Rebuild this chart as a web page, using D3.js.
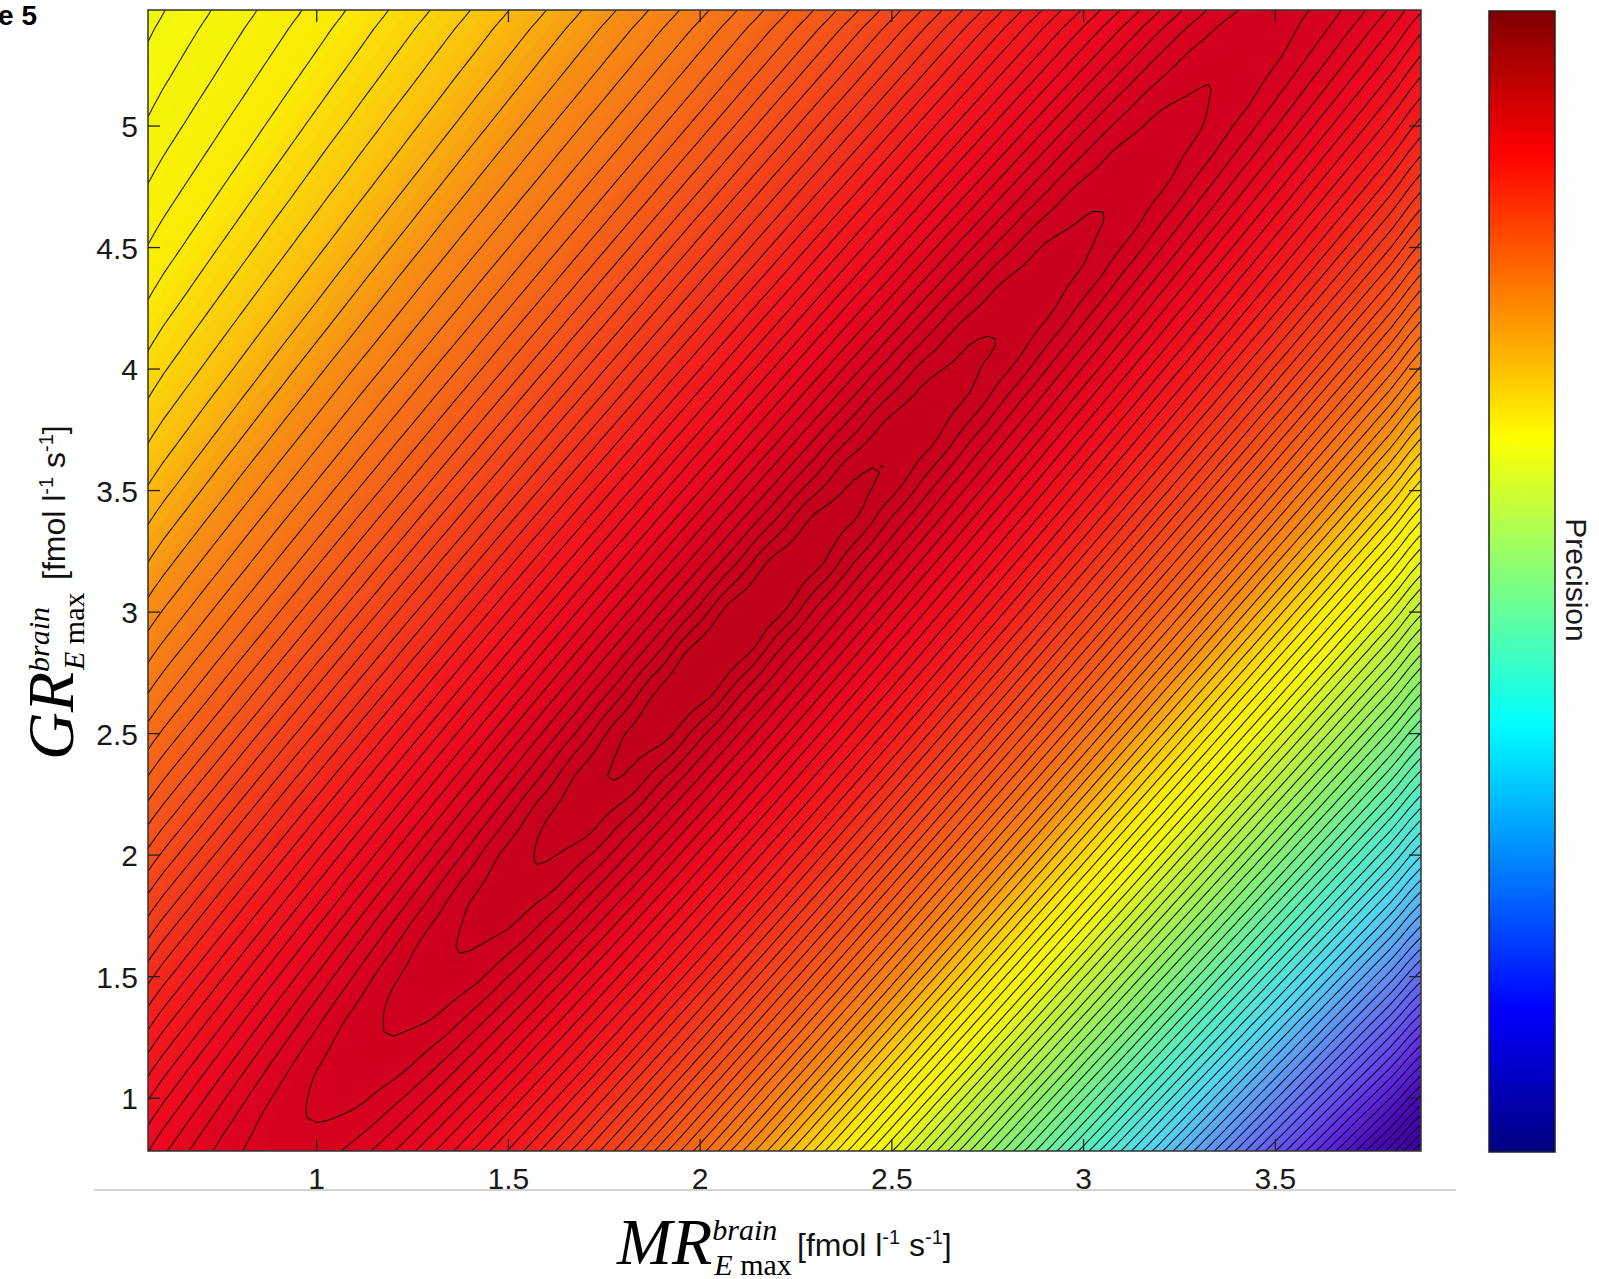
<!DOCTYPE html>
<html>
<head>
<meta charset="utf-8">
<script src="https://cdn.jsdelivr.net/npm/d3@7"></script>
<style>
  body { margin: 0; background: #fff; }
  svg { display: block; }
  .tick-label { font-family: "Liberation Sans", Arial, sans-serif; font-size: 30px; fill: #1a1a1a; }
</style>
</head>
<body>
<svg id="chart" width="1599" height="1279"></svg>
<script>
const xTicks = [1, 1.5, 2, 2.5, 3, 3.5];
const yTicks = [1, 1.5, 2, 2.5, 3, 3.5, 4, 4.5, 5];
const barTicks = [1000, 2000, 3000, 4000, 5000, 6000, 7000, 8000, 9000];

// sample points of the precision surface
const gridMR = [0.5, 0.6, 0.7, 0.8, 0.9, 1.0, 1.1, 1.2, 1.3, 1.4, 1.5, 1.6, 1.7, 1.8, 1.9, 2.0, 2.1, 2.2,
  2.3, 2.4, 2.5, 2.6, 2.7, 2.8, 2.9, 3.0, 3.1, 3.2, 3.3, 3.4, 3.5, 3.6, 3.7, 3.8, 3.9];
const gridGR = [0.7, 0.8, 0.9, 1.0, 1.1, 1.2, 1.3, 1.4, 1.5, 1.6, 1.7, 1.8, 1.9, 2.0, 2.1, 2.2, 2.3, 2.4,
  2.5, 2.6, 2.7, 2.8, 2.9, 3.0, 3.1, 3.2, 3.3, 3.4, 3.5, 3.6, 3.7, 3.8, 3.9, 4.0, 4.1, 4.2, 4.3, 4.4,
  4.5, 4.6, 4.7, 4.8, 4.9, 5.0, 5.1, 5.2, 5.3, 5.4, 5.5];

// precision x 10^4, one row per GR value (bottom to top), one column per MR value
const precision = [
  [8863, 9046, 9203, 9314, 9345, 9299, 9178, 9011, 8816, 8605, 8381, 8139, 7879, 7600, 7308, 7005, 6691, 6367, 6032, 5690, 5345, 4997, 4647, 4294, 3938, 3576, 3210, 2840, 2465, 2087, 1705, 1319, 930, 539, 146],
  [8772, 8966, 9143, 9287, 9362, 9365, 9274, 9126, 8940, 8734, 8516, 8283, 8032, 7762, 7476, 7179, 6871, 6553, 6225, 5886, 5544, 5199, 4851, 4501, 4149, 3792, 3431, 3066, 2696, 2324, 1947, 1568, 1185, 799, 412],
  [8676, 8877, 9068, 9235, 9361, 9400, 9359, 9234, 9062, 8862, 8648, 8422, 8180, 7919, 7641, 7350, 7048, 6736, 6413, 6080, 5741, 5398, 5053, 4705, 4356, 4004, 3648, 3287, 2923, 2555, 2184, 1810, 1432, 1052, 671],
  [8576, 8782, 8982, 9168, 9324, 9415, 9424, 9332, 9179, 8989, 8778, 8557, 8323, 8072, 7803, 7517, 7221, 6914, 6598, 6272, 5935, 5595, 5252, 4907, 4561, 4212, 3860, 3504, 3144, 2781, 2415, 2046, 1674, 1299, 923],
  [8474, 8683, 8889, 9086, 9265, 9405, 9454, 9420, 9290, 9112, 8908, 8689, 8462, 8219, 7959, 7681, 7390, 7089, 6779, 6458, 6128, 5790, 5450, 5107, 4763, 4417, 4069, 3717, 3361, 3003, 2641, 2277, 1910, 1541, 1169],
  [8369, 8580, 8789, 8995, 9189, 9358, 9467, 9483, 9390, 9231, 9035, 8821, 8597, 8362, 8110, 7842, 7557, 7261, 6956, 6641, 6317, 5983, 5645, 5304, 4962, 4618, 4274, 3926, 3575, 3220, 2863, 2503, 2141, 1776, 1409],
  [8263, 8475, 8687, 8897, 9101, 9290, 9445, 9508, 9481, 9344, 9160, 8951, 8730, 8500, 8256, 7997, 7720, 7430, 7130, 6821, 6502, 6174, 5838, 5500, 5160, 4818, 4475, 4131, 3784, 3433, 3080, 2724, 2366, 2006, 1644],
  [8157, 8369, 8581, 8794, 9004, 9206, 9387, 9516, 9541, 9449, 9282, 9080, 8862, 8635, 8398, 8147, 7879, 7595, 7300, 6997, 6684, 6361, 6030, 5693, 5355, 5016, 4675, 4333, 3990, 3643, 3294, 2942, 2588, 2232, 1874],
  [8050, 8261, 8474, 8688, 8901, 9111, 9310, 9481, 9562, 9542, 9398, 9207, 8993, 8768, 8536, 8292, 8033, 7757, 7468, 7169, 6861, 6545, 6219, 5885, 5549, 5211, 4872, 4532, 4192, 3849, 3503, 3155, 2805, 2453, 2099],
  [7943, 8154, 8366, 8580, 8795, 9009, 9219, 9412, 9563, 9598, 9506, 9331, 9123, 8901, 8671, 8434, 8182, 7915, 7632, 7338, 7036, 6724, 6404, 6075, 5740, 5405, 5067, 4729, 4391, 4052, 3709, 3365, 3018, 2670, 2320],
  [7835, 8046, 8257, 8471, 8686, 8903, 9118, 9326, 9512, 9616, 9602, 9450, 9252, 9033, 8804, 8571, 8327, 8068, 7793, 7504, 7207, 6901, 6586, 6262, 5930, 5596, 5261, 4925, 4588, 4251, 3912, 3571, 3228, 2883, 2536],
  [7728, 7938, 8149, 8362, 8577, 8793, 9011, 9227, 9431, 9604, 9653, 9564, 9378, 9164, 8938, 8705, 8467, 8216, 7950, 7668, 7375, 7073, 6764, 6446, 6119, 5786, 5453, 5118, 4783, 4448, 4112, 3774, 3434, 3092, 2749],
  [7621, 7830, 8040, 8252, 8466, 8682, 8901, 9120, 9336, 9536, 9669, 9663, 9500, 9295, 9071, 8839, 8603, 8359, 8101, 7828, 7540, 7243, 6938, 6626, 6304, 5975, 5643, 5310, 4976, 4642, 4309, 3974, 3637, 3298, 2958],
  [7515, 7722, 7931, 8142, 8355, 8571, 8789, 9009, 9230, 9444, 9639, 9708, 9621, 9423, 9203, 8972, 8737, 8498, 8247, 7982, 7702, 7410, 7110, 6802, 6486, 6162, 5831, 5500, 5168, 4835, 4503, 4171, 3837, 3501, 3164],
  [7413, 7616, 7823, 8032, 8244, 8459, 8676, 8896, 9118, 9340, 9553, 9718, 9724, 9548, 9334, 9105, 8871, 8634, 8390, 8132, 7860, 7574, 7278, 6975, 6664, 6345, 6018, 5688, 5358, 5027, 4695, 4365, 4034, 3701, 3366],
  [7316, 7510, 7716, 7923, 8134, 8347, 8562, 8782, 9004, 9228, 9450, 9664, 9762, 9676, 9464, 9238, 9004, 8767, 8528, 8277, 8013, 7734, 7444, 7145, 6839, 6525, 6204, 5875, 5546, 5216, 4886, 4557, 4228, 3898, 3566],
  [7222, 7409, 7609, 7815, 8024, 8235, 8449, 8667, 8888, 9112, 9338, 9561, 9762, 9784, 9593, 9370, 9137, 8901, 8662, 8418, 8162, 7891, 7606, 7312, 7011, 6702, 6386, 6061, 5733, 5405, 5076, 4747, 4419, 4092, 3763],
  [7133, 7312, 7504, 7707, 7914, 8124, 8336, 8552, 8772, 8995, 9222, 9449, 9678, 9816, 9729, 9501, 9270, 9034, 8795, 8555, 8305, 8043, 7766, 7477, 7180, 6876, 6564, 6245, 5919, 5591, 5264, 4936, 4610, 4283, 3957],
  [7047, 7219, 7403, 7601, 7806, 8013, 8224, 8438, 8655, 8877, 9102, 9331, 9561, 9793, 9843, 9634, 9402, 9166, 8928, 8688, 8445, 8190, 7921, 7638, 7346, 7046, 6739, 6425, 6103, 5777, 5450, 5124, 4798, 4473, 4149],
  [6964, 7131, 7307, 7496, 7698, 7904, 8112, 8324, 8539, 8759, 8982, 9210, 9441, 9679, 9870, 9777, 9532, 9298, 9060, 8820, 8580, 8332, 8071, 7797, 7509, 7214, 6911, 6602, 6285, 5961, 5636, 5310, 4985, 4661, 4338],
  [6884, 7045, 7215, 7397, 7591, 7795, 8002, 8211, 8424, 8641, 8863, 9088, 9318, 9551, 9802, 9900, 9668, 9429, 9191, 8952, 8713, 8470, 8217, 7950, 7669, 7378, 7080, 6775, 6463, 6144, 5820, 5495, 5171, 4848, 4525],
  [6808, 6964, 7128, 7302, 7488, 7688, 7892, 8099, 8310, 8525, 8743, 8967, 9195, 9427, 9666, 9911, 9813, 9558, 9322, 9084, 8844, 8605, 8358, 8099, 7826, 7540, 7246, 6946, 6639, 6324, 6002, 5679, 5356, 5033, 4711],
  [6734, 6885, 7043, 7211, 7389, 7581, 7784, 7989, 8197, 8409, 8625, 8845, 9071, 9301, 9534, 9786, 9926, 9693, 9452, 9215, 8976, 8736, 8495, 8243, 7978, 7699, 7410, 7114, 6811, 6501, 6184, 5862, 5539, 5217, 4896],
  [6663, 6809, 6962, 7124, 7295, 7479, 7676, 7879, 8085, 8294, 8508, 8725, 8948, 9175, 9406, 9642, 9891, 9833, 9579, 9344, 9106, 8867, 8628, 8383, 8125, 7855, 7570, 7279, 6980, 6674, 6362, 6043, 5722, 5400, 5080],
  [6594, 6736, 6885, 7040, 7205, 7381, 7570, 7771, 7974, 8181, 8392, 8606, 8826, 9050, 9278, 9509, 9754, 9893, 9713, 9472, 9236, 8997, 8758, 8518, 8268, 8005, 7728, 7441, 7146, 6845, 6537, 6223, 5903, 5582, 5262],
  [6528, 6666, 6810, 6960, 7119, 7288, 7469, 7664, 7865, 8069, 8277, 8489, 8705, 8926, 9151, 9380, 9613, 9850, 9835, 9597, 9363, 9127, 8888, 8649, 8406, 8151, 7882, 7600, 7310, 7013, 6709, 6399, 6083, 5763, 5444],
  [6464, 6599, 6738, 6884, 7037, 7199, 7372, 7558, 7757, 7958, 8164, 8373, 8586, 8803, 9026, 9252, 9482, 9718, 9856, 9725, 9488, 9255, 9018, 8779, 8540, 8292, 8031, 7757, 7470, 7178, 6879, 6573, 6261, 5943, 5624],
  [6403, 6534, 6669, 6810, 6958, 7114, 7280, 7458, 7650, 7849, 8052, 8258, 8468, 8683, 8902, 9126, 9353, 9580, 9806, 9818, 9609, 9380, 9145, 8908, 8670, 8428, 8175, 7908, 7629, 7340, 7045, 6744, 6436, 6122, 5804],
  [6343, 6471, 6602, 6739, 6882, 7032, 7192, 7362, 7545, 7741, 7941, 8145, 8352, 8564, 8780, 9000, 9225, 9451, 9678, 9818, 9727, 9500, 9271, 9036, 8799, 8560, 8314, 8056, 7784, 7499, 7208, 6911, 6608, 6298, 5982],
  [6286, 6410, 6538, 6671, 6809, 6954, 7107, 7271, 7446, 7635, 7832, 8033, 8238, 8446, 8659, 8877, 9099, 9323, 9546, 9760, 9789, 9617, 9393, 9162, 8926, 8689, 8449, 8198, 7934, 7656, 7369, 7076, 6777, 6471, 6159],
  [6230, 6352, 6476, 6605, 6739, 6879, 7027, 7184, 7351, 7532, 7725, 7923, 8125, 8331, 8541, 8755, 8974, 9196, 9419, 9637, 9780, 9720, 9508, 9285, 9052, 8816, 8580, 8336, 8079, 7810, 7527, 7238, 6943, 6642, 6334],
  [6177, 6296, 6417, 6542, 6672, 6807, 6950, 7100, 7261, 7433, 7619, 7815, 8014, 8217, 8424, 8635, 8851, 9071, 9292, 9510, 9714, 9755, 9618, 9403, 9176, 8942, 8707, 8469, 8220, 7958, 7683, 7398, 7106, 6809, 6506],
  [6125, 6241, 6360, 6481, 6607, 6738, 6876, 7021, 7175, 7340, 7517, 7708, 7904, 8104, 8308, 8517, 8730, 8946, 9166, 9385, 9596, 9740, 9703, 9512, 9295, 9066, 8833, 8597, 8356, 8102, 7835, 7555, 7267, 6974, 6675],
  [6075, 6189, 6304, 6422, 6545, 6672, 6805, 6944, 7093, 7250, 7420, 7603, 7797, 7994, 8195, 8400, 8610, 8824, 9041, 9260, 9473, 9667, 9718, 9613, 9409, 9187, 8957, 8723, 8487, 8240, 7981, 7709, 7425, 7136, 6841],
  [6026, 6138, 6251, 6366, 6485, 6608, 6736, 6871, 7014, 7165, 7328, 7502, 7691, 7885, 8084, 8286, 8492, 8703, 8918, 9135, 9350, 9553, 9699, 9679, 9512, 9303, 9079, 8848, 8614, 8374, 8123, 7858, 7581, 7295, 7004],
  [5980, 6089, 6199, 6312, 6427, 6546, 6671, 6801, 6939, 7084, 7240, 7406, 7587, 7778, 7974, 8173, 8377, 8584, 8796, 9011, 9226, 9435, 9621, 9681, 9602, 9411, 9196, 8970, 8738, 8504, 8260, 8003, 7733, 7452, 7164],
  [5935, 6041, 6149, 6259, 6372, 6487, 6608, 6734, 6867, 7007, 7156, 7315, 7487, 7673, 7866, 8062, 8263, 8467, 8676, 8888, 9102, 9314, 9511, 9656, 9650, 9507, 9308, 9089, 8861, 8629, 8392, 8143, 7881, 7606, 7322],
  [5891, 5996, 6101, 6208, 6318, 6431, 6548, 6670, 6798, 6933, 7076, 7229, 7393, 7570, 7760, 7953, 8150, 8352, 8558, 8767, 8979, 9191, 9396, 9575, 9644, 9586, 9409, 9203, 8980, 8751, 8519, 8278, 8024, 7757, 7478],
  [5849, 5951, 6055, 6159, 6266, 6376, 6489, 6608, 6731, 6862, 6999, 7146, 7303, 7472, 7656, 7846, 8040, 8239, 8441, 8648, 8858, 9069, 9277, 9468, 9612, 9616, 9498, 9309, 9096, 8872, 8642, 8408, 8162, 7903, 7630],
  [5809, 5909, 6010, 6112, 6217, 6323, 6434, 6548, 6668, 6794, 6926, 7067, 7217, 7379, 7554, 7741, 7932, 8127, 8327, 8531, 8738, 8947, 9156, 9356, 9529, 9607, 9564, 9404, 9206, 8989, 8763, 8533, 8295, 8044, 7779],
  [5770, 5868, 5967, 6067, 6168, 6273, 6380, 6491, 6607, 6728, 6856, 6992, 7136, 7290, 7457, 7637, 7826, 8018, 8215, 8415, 8619, 8827, 9035, 9239, 9425, 9567, 9581, 9485, 9308, 9102, 8881, 8655, 8423, 8180, 7923],
  [5733, 5829, 5925, 6023, 6122, 6224, 6328, 6436, 6548, 6666, 6789, 6919, 7058, 7206, 7365, 7537, 7721, 7911, 8104, 8301, 8503, 8708, 8914, 9120, 9315, 9483, 9569, 9539, 9396, 9207, 8996, 8773, 8546, 8310, 8062],
  [5697, 5791, 5885, 5980, 6077, 6177, 6279, 6383, 6492, 6606, 6725, 6851, 6984, 7125, 7277, 7441, 7619, 7805, 7995, 8190, 8388, 8590, 8795, 9000, 9200, 9383, 9522, 9544, 9468, 9303, 9105, 8889, 8665, 8436, 8196],
  [5663, 5754, 5846, 5940, 6034, 6131, 6230, 6333, 6438, 6548, 6663, 6784, 6913, 7049, 7194, 7350, 7519, 7701, 7889, 8080, 8275, 8475, 8677, 8881, 9083, 9275, 9438, 9529, 9509, 9384, 9206, 9000, 8782, 8557, 8325],
  [5629, 5719, 5809, 5900, 5993, 6087, 6184, 6284, 6386, 6493, 6604, 6721, 6844, 6975, 7115, 7264, 7425, 7600, 7784, 7972, 8165, 8361, 8560, 8762, 8964, 9161, 9340, 9477, 9507, 9448, 9295, 9105, 8895, 8674, 8448],
  [5598, 5685, 5773, 5862, 5953, 6045, 6139, 6236, 6336, 6440, 6547, 6660, 6779, 6905, 7039, 7182, 7336, 7502, 7681, 7866, 8056, 8249, 8446, 8645, 8846, 9045, 9233, 9393, 9488, 9477, 9369, 9201, 9003, 8789, 8567],
  [5567, 5653, 5739, 5826, 5914, 6004, 6096, 6191, 6288, 6388, 6493, 6602, 6717, 6838, 6967, 7104, 7251, 7409, 7581, 7763, 7949, 8139, 8333, 8530, 8729, 8928, 9121, 9297, 9431, 9470, 9424, 9284, 9103, 8898, 8682],
  [5538, 5621, 5706, 5791, 5877, 5965, 6055, 6147, 6242, 6339, 6441, 6546, 6657, 6774, 6898, 7029, 7170, 7321, 7484, 7661, 7844, 8031, 8222, 8416, 8614, 8812, 9007, 9192, 9348, 9447, 9443, 9351, 9194, 9003, 8794],
  [5509, 5591, 5674, 5757, 5842, 5927, 6015, 6105, 6197, 6292, 6390, 6493, 6600, 6712, 6832, 6958, 7092, 7237, 7392, 7561, 7741, 7925, 8113, 8305, 8499, 8696, 8892, 9081, 9253, 9386, 9433, 9397, 9270, 9099, 8900]
];

// contour levels drawn as black lines
const contourLevels = d3.range(9800, 0, -100);

// plot colours (picked from the figure) against precision x 10^4
const colorStops = [9943, 9443, 8943, 8443, 8043, 7343, 6743, 6343, 5993, 5643, 5243, 4543, 3743, 3143,
  2743, 2243, 1843, 1443, 1043, 443];
const colorList = ['#bc0018', '#d2001e', '#ea0820', '#f31a1e', '#f2371c', '#f55f19', '#f78c14', '#fac30c',
  '#fbeb05', '#f5f80a', '#c8f232', '#87f06e', '#55eec3', '#50d7f0', '#5aaaf5', '#6278f3', '#6450f0',
  '#5c28e1', '#480cb9', '#3a02a0'];

const svg = d3.select('#chart');
const x = d3.scaleLinear().domain([0.56, 3.88]).range([148, 1421]);
const y = d3.scaleLinear().domain([0.7825, 5.4775]).range([1151, 10]);
const fieldColor = d3.scaleLinear().domain(colorStops.slice().reverse())
  .range(colorList.slice().reverse()).clamp(true);

// smooth the grid (cubic) before contouring, like interpolated shading
const F = 4;
const nx = (gridMR.length - 1) * F + 1, ny = (gridGR.length - 1) * F + 1;
function cub(p0, p1, p2, p3, t) {
  return p1 + 0.5 * t * (p2 - p0 + t * (2 * p0 - 5 * p1 + 4 * p2 - p3 + t * (3 * (p1 - p2) + p3 - p0)));
}
const ci = (v, n) => Math.max(0, Math.min(n - 1, v));
function sample(gi, gj) {
  const i = Math.min(Math.floor(gi), gridMR.length - 2), j = Math.min(Math.floor(gj), gridGR.length - 2);
  const tx = gi - i, ty = gj - j;
  const rows = [-1, 0, 1, 2].map(m => {
    const r = precision[ci(j + m, gridGR.length)];
    return cub(r[ci(i - 1, gridMR.length)], r[i], r[i + 1], r[ci(i + 2, gridMR.length)], tx);
  });
  return cub(rows[0], rows[1], rows[2], rows[3], ty);
}
const fine = new Float64Array(nx * ny);
for (let j = 0; j < ny; j++) for (let i = 0; i < nx; i++) fine[j * nx + i] = sample(i / F, j / F);

const stepMR = gridMR[1] - gridMR[0], stepGR = gridGR[1] - gridGR[0];
const path = d3.geoPath(d3.geoTransform({
  point(cx, cy) {
    this.stream.point(x(gridMR[0] + (cx - 0.5) / F * stepMR), y(gridGR[0] + (cy - 0.5) / F * stepGR));
  }
}));

svg.append('clipPath').attr('id', 'plot-clip')
  .append('rect').attr('x', 148).attr('y', 10).attr('width', 1273).attr('height', 1141);
const field = svg.append('g').attr('clip-path', 'url(#plot-clip)');
const vMin = d3.min(fine), vMax = d3.max(fine);
field.append('rect').attr('x', 148).attr('y', 10).attr('width', 1273).attr('height', 1141)
  .attr('fill', fieldColor(vMin));
field.selectAll('path.band')
  .data(d3.contours().size([nx, ny]).thresholds(d3.range(Math.floor(vMin), vMax, 40))(fine))
  .join('path').attr('class', 'band')
  .attr('d', path)
  .attr('fill', d => fieldColor(d.value + 20));

field.selectAll('path.level')
  .data(d3.contours().size([nx, ny]).thresholds(contourLevels)(fine))
  .join('path').attr('class', 'level')
  .attr('d', path)
  .attr('fill', 'none').attr('stroke', '#120404').attr('stroke-width', 1.1).attr('stroke-opacity', 0.9);

// frame, ticks on all four sides
svg.append('rect').attr('x', 148).attr('y', 10).attr('width', 1273).attr('height', 1141)
  .attr('fill', 'none').attr('stroke', '#333').attr('stroke-width', 1.5);
const tk = svg.append('g').attr('stroke', '#222').attr('stroke-width', 1.3);
xTicks.forEach(t => {
  tk.append('line').attr('x1', x(t)).attr('x2', x(t)).attr('y1', 1151).attr('y2', 1139);
  tk.append('line').attr('x1', x(t)).attr('x2', x(t)).attr('y1', 10).attr('y2', 22);
});
yTicks.forEach(t => {
  tk.append('line').attr('x1', 148).attr('x2', 160).attr('y1', y(t)).attr('y2', y(t));
  tk.append('line').attr('x1', 1421).attr('x2', 1409).attr('y1', y(t)).attr('y2', y(t));
});
svg.selectAll('text.xt').data(xTicks).join('text').attr('class', 'tick-label xt')
  .attr('x', d => x(d)).attr('y', 1189).attr('text-anchor', 'middle').text(d => d);
svg.selectAll('text.yt').data(yTicks).join('text').attr('class', 'tick-label yt')
  .attr('x', 138).attr('y', d => y(d) + 11).attr('text-anchor', 'end').text(d => d);

svg.append('line').attr('x1', 94).attr('x2', 1456).attr('y1', 1190).attr('y2', 1190)
  .attr('stroke', '#c4c4c4').attr('stroke-width', 1.5);

// colorbar (jet), unlabelled ticks
const cb = d3.scaleLinear().domain([77, 10000]).range([1152, 11]);
const grad = svg.append('defs').append('linearGradient').attr('id', 'jet')
  .attr('x1', 0).attr('y1', 1).attr('x2', 0).attr('y2', 0);
[[0, '#000080'], [0.125, '#0000ff'], [0.375, '#00ffff'], [0.625, '#ffff00'], [0.875, '#ff0000'], [1, '#800000']]
  .forEach(([o, c]) => grad.append('stop').attr('offset', o).attr('stop-color', c));
svg.append('rect').attr('x', 1489).attr('y', 11).attr('width', 66).attr('height', 1141)
  .attr('fill', 'url(#jet)').attr('stroke', '#222').attr('stroke-width', 1.5);
barTicks.forEach(t => {
  tk.append('line').attr('x1', 1489).attr('x2', 1500).attr('y1', cb(t)).attr('y2', cb(t));
  tk.append('line').attr('x1', 1555).attr('x2', 1544).attr('y1', cb(t)).attr('y2', cb(t));
});
svg.append('text').attr('transform', 'translate(1566,580) rotate(90)')
  .attr('text-anchor', 'middle').attr('class', 'tick-label').text('Precision');

svg.append('text').attr('x', 37).attr('y', 25).attr('text-anchor', 'end')
  .style('font-family', '"Liberation Sans", Arial, sans-serif').style('font-weight', 'bold')
  .style('font-size', '28px').text('Figure 5');

function axisLabel(g, main) {
  const serif = '"Liberation Serif", "Times New Roman", serif';
  const m = g.append('text').attr('x', 0).attr('y', 0).style('font-family', serif)
    .style('font-style', 'italic').style('font-size', '66px').text(main);
  const mw = m.node().getComputedTextLength();
  g.append('text').attr('x', mw).attr('y', -24).style('font-family', serif)
    .style('font-style', 'italic').style('font-size', '30px').text('brain');
  const sub = g.append('text').attr('x', mw + 2).attr('y', 11).style('font-family', serif).style('font-size', '30px');
  sub.append('tspan').style('font-style', 'italic').text('E');
  sub.append('tspan').text(' max');
  const u = g.append('text').attr('x', 180).attr('y', -8)
    .style('font-family', '"Liberation Sans", Arial, sans-serif').style('font-size', '32px').style('fill', '#111');
  u.append('tspan').text('[fmol l');
  u.append('tspan').attr('dy', -12).style('font-size', '20px').text('-1');
  u.append('tspan').attr('dy', 12).text(' s');
  u.append('tspan').attr('dy', -12).style('font-size', '20px').text('-1');
  u.append('tspan').attr('dy', 12).text(']');
}
axisLabel(svg.append('g').attr('transform', 'translate(617,1264)'), 'MR');
axisLabel(svg.append('g').attr('transform', 'translate(73,760) rotate(-90)'), 'GR');
</script>
</body>
</html>
